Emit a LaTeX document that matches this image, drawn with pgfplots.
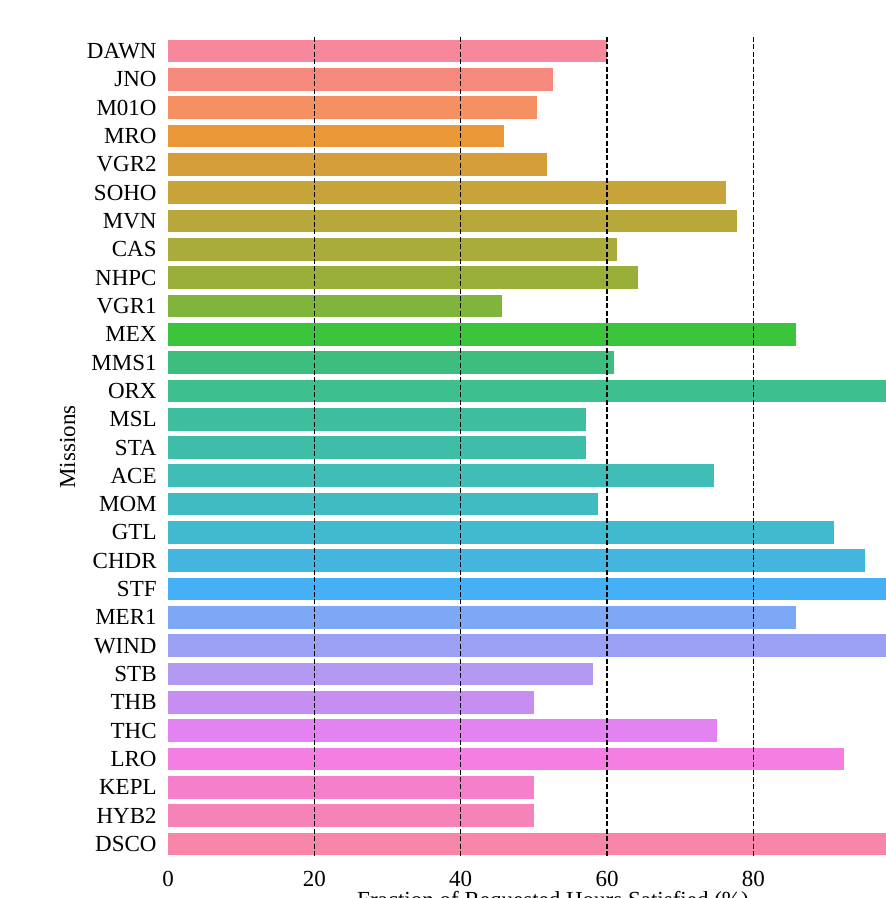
\documentclass[border=0pt]{standalone}
\usepackage{fontspec}
\setmainfont{Liberation Serif}
\usepackage{pgfplots}
\pgfplotsset{compat=1.18}
\definecolor{c1}{HTML}{F7879A}
\definecolor{c2}{HTML}{F58A7C}
\definecolor{c3}{HTML}{F59063}
\definecolor{c4}{HTML}{EA9838}
\definecolor{c5}{HTML}{D69E3A}
\definecolor{c6}{HTML}{C7A43A}
\definecolor{c7}{HTML}{B8A73A}
\definecolor{c8}{HTML}{A9AB3A}
\definecolor{c9}{HTML}{9AAE3A}
\definecolor{c10}{HTML}{7FB53A}
\definecolor{c11}{HTML}{3CC43C}
\definecolor{c12}{HTML}{3DBE7E}
\definecolor{c13}{HTML}{3DBF8E}
\definecolor{c14}{HTML}{3EBE9E}
\definecolor{c15}{HTML}{3EBDA9}
\definecolor{c16}{HTML}{3FBDB6}
\definecolor{c17}{HTML}{40BBC2}
\definecolor{c18}{HTML}{41B9CF}
\definecolor{c19}{HTML}{43B5DE}
\definecolor{c20}{HTML}{45B0F5}
\definecolor{c21}{HTML}{7CA8F5}
\definecolor{c22}{HTML}{9CA0F5}
\definecolor{c23}{HTML}{B499F2}
\definecolor{c24}{HTML}{C78EF2}
\definecolor{c25}{HTML}{E383F2}
\definecolor{c26}{HTML}{F57EE3}
\definecolor{c27}{HTML}{F57FCB}
\definecolor{c28}{HTML}{F683B8}
\definecolor{c29}{HTML}{F786A8}
\pgfplotsset{mybar/.style={xbar, bar width=0.8, bar shift=0pt, draw=none, fill=#1}}
\begin{document}
\begin{tikzpicture}[font=\fontsize{11.5}{13}\selectfont]
\begin{axis}[
  at={(84pt,20pt)}, anchor=south west,
  scale only axis, width=359pt, height=410.5pt,
  xmin=0, xmax=98.13,
  ymin=-0.5, ymax=28.5, y dir=reverse,
  axis line style={draw=none},
  major tick length=0pt, tick style={draw=none},
  xtick={0,20,40,60,80},
  ytick={0,...,28},
  yticklabels={DAWN,JNO,M01O,MRO,VGR2,SOHO,MVN,CAS,NHPC,VGR1,MEX,MMS1,ORX,MSL,STA,ACE,MOM,GTL,CHDR,STF,MER1,WIND,STB,THB,THC,LRO,KEPL,HYB2,DSCO},
  yticklabel style={anchor=east, inner sep=0pt, xshift=-5.5pt},
  xticklabel style={anchor=north, inner sep=0pt, yshift=-6.25pt},
  /pgf/number format/assume math mode=true,
  clip=true,
]
\addplot[mybar=c1] coordinates {(60.0,0)};
\addplot[mybar=c2] coordinates {(52.6,1)};
\addplot[mybar=c3] coordinates {(50.4,2)};
\addplot[mybar=c4] coordinates {(45.9,3)};
\addplot[mybar=c5] coordinates {(51.8,4)};
\addplot[mybar=c6] coordinates {(76.3,5)};
\addplot[mybar=c7] coordinates {(77.8,6)};
\addplot[mybar=c8] coordinates {(61.4,7)};
\addplot[mybar=c9] coordinates {(64.2,8)};
\addplot[mybar=c10] coordinates {(45.6,9)};
\addplot[mybar=c11] coordinates {(85.8,10)};
\addplot[mybar=c12] coordinates {(61.0,11)};
\addplot[mybar=c13] coordinates {(100,12)};
\addplot[mybar=c14] coordinates {(57.1,13)};
\addplot[mybar=c15] coordinates {(57.1,14)};
\addplot[mybar=c16] coordinates {(74.6,15)};
\addplot[mybar=c17] coordinates {(58.8,16)};
\addplot[mybar=c18] coordinates {(91.0,17)};
\addplot[mybar=c19] coordinates {(95.3,18)};
\addplot[mybar=c20] coordinates {(100,19)};
\addplot[mybar=c21] coordinates {(85.8,20)};
\addplot[mybar=c22] coordinates {(100,21)};
\addplot[mybar=c23] coordinates {(58.1,22)};
\addplot[mybar=c24] coordinates {(50.0,23)};
\addplot[mybar=c25] coordinates {(75.0,24)};
\addplot[mybar=c26] coordinates {(92.4,25)};
\addplot[mybar=c27] coordinates {(50.0,26)};
\addplot[mybar=c28] coordinates {(50.0,27)};
\addplot[mybar=c29] coordinates {(100,28)};
\addplot[black, line width=0.7pt, dash pattern=on 2.5pt off 1.2pt] coordinates {(20,-0.5) (20,28.5)};
\addplot[black, line width=0.7pt, dash pattern=on 2.5pt off 1.2pt] coordinates {(40,-0.5) (40,28.5)};
\addplot[black, line width=0.7pt, dash pattern=on 2.5pt off 1.2pt] coordinates {(60,-0.5) (60,28.5)};
\addplot[black, line width=0.7pt, dash pattern=on 2.5pt off 1.2pt] coordinates {(80,-0.5) (80,28.5)};
\end{axis}
\node[rotate=90, anchor=base, inner sep=0pt] at (37.5pt,225.5pt) {Missions};
\node[anchor=north, inner sep=0pt] at (276.5pt,3.5pt) {Fraction of Requested Hours Satisfied (\%)};
\pgfresetboundingbox
\path[use as bounding box] (0,0) rectangle (443pt,449pt);
\end{tikzpicture}
\end{document}
